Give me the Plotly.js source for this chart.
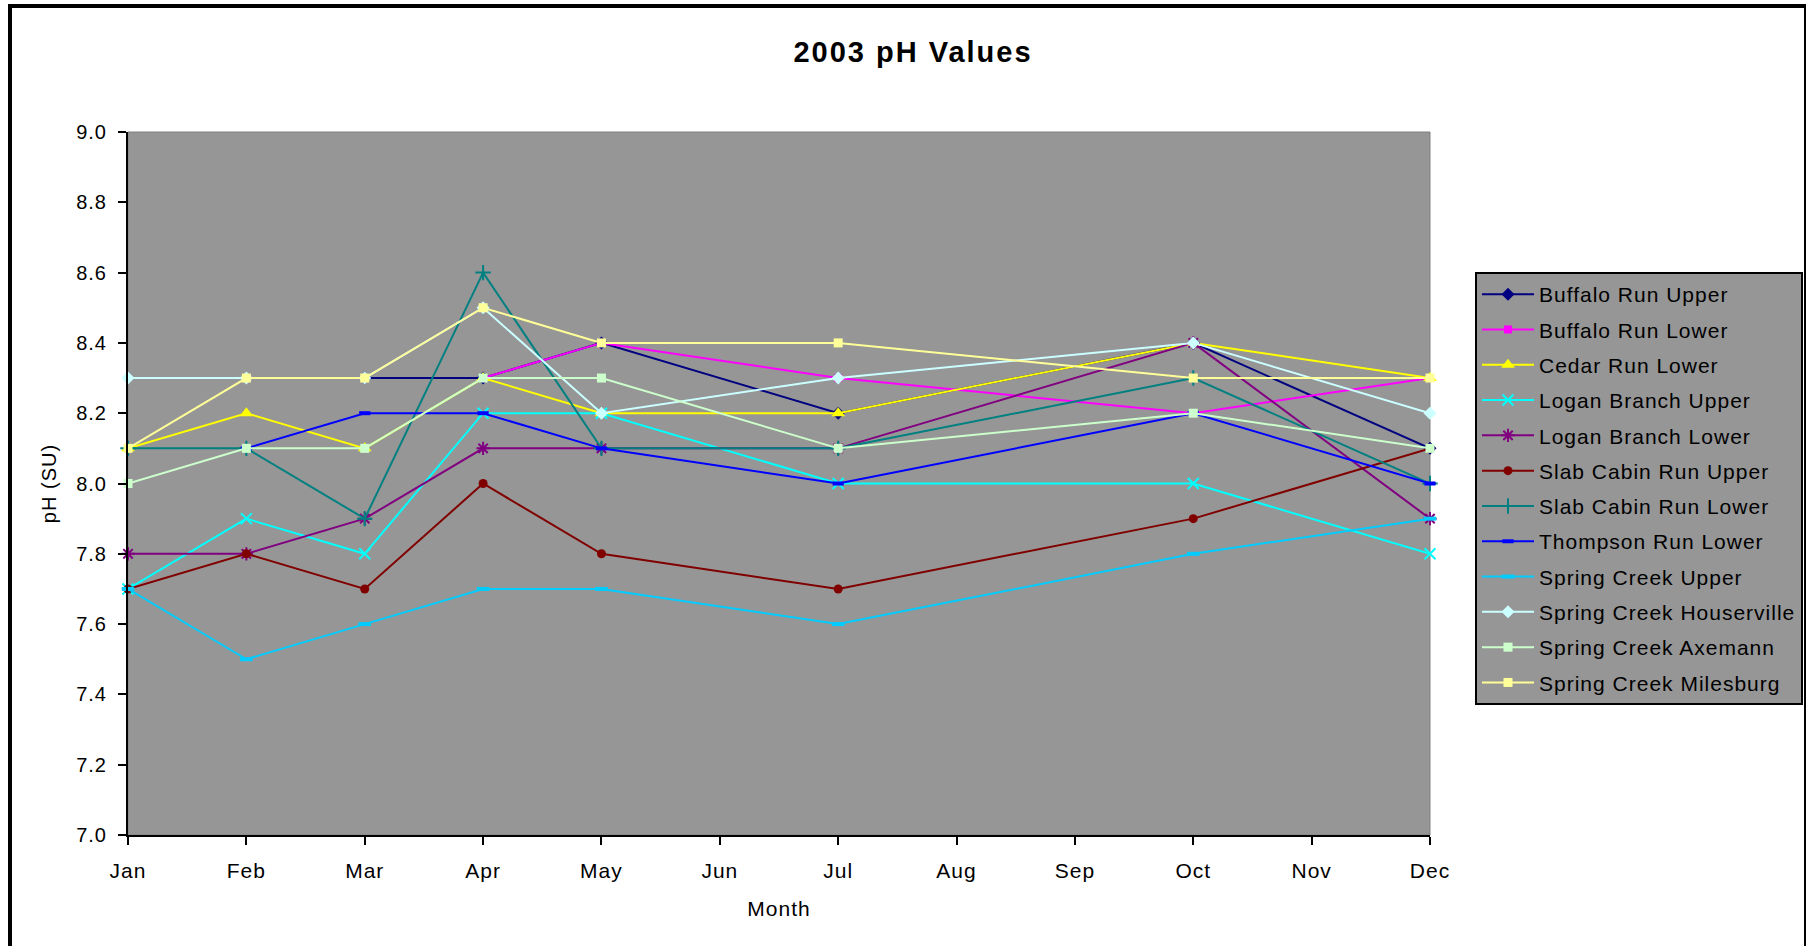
<!DOCTYPE html>
<html>
<head>
<meta charset="utf-8">
<script src="https://cdn.plot.ly/plotly-3.0.1.min.js"></script>
<style>
  html, body { margin: 0; padding: 0; background: #fff; overflow: hidden; }
  #frame { position: absolute; left: 8px; top: 4px; width: 1798px; height: 1000px;
           border-left: 4px solid #000; border-top: 4px solid #000; border-right: 2px solid #000; box-sizing: border-box; }
  #chart { position: absolute; left: 0; top: 0; width: 1812px; height: 946px; }
  text { letter-spacing: 1px; }
  .gtitle { letter-spacing: 2px; }
</style>
</head>
<body>
<div id="frame"></div>
<div id="chart"></div>
<script>
// All months on the category axis
const months = ['Jan','Feb','Mar','Apr','May','Jun','Jul','Aug','Sep','Oct','Nov','Dec'];
// Months with samples
const sampleMonths = ['Jan','Feb','Mar','Apr','May','Jul','Oct','Dec'];

const seriesNames = [
  'Buffalo Run Upper','Buffalo Run Lower','Cedar Run Lower','Logan Branch Upper',
  'Logan Branch Lower','Slab Cabin Run Upper','Slab Cabin Run Lower','Thompson Run Lower',
  'Spring Creek Upper','Spring Creek Houserville','Spring Creek Axemann','Spring Creek Milesburg'
];

const buffaloRunUpper      = [null, null, 8.3, 8.3, 8.4, 8.2, 8.4, 8.1];
const buffaloRunLower      = [null, null, null, 8.3, 8.4, 8.3, 8.2, 8.3];
const cedarRunLower        = [8.1, 8.2, 8.1, 8.3, 8.2, 8.2, 8.4, 8.3];
const loganBranchUpper     = [7.7, 7.9, 7.8, 8.2, 8.2, 8.0, 8.0, 7.8];
const loganBranchLower     = [7.8, 7.8, 7.9, 8.1, 8.1, 8.1, 8.4, 7.9];
const slabCabinRunUpper    = [7.7, 7.8, 7.7, 8.0, 7.8, 7.7, 7.9, 8.1];
const slabCabinRunLower    = [8.1, 8.1, 7.9, 8.6, 8.1, 8.1, 8.3, 8.0];
const thompsonRunLower     = [null, 8.1, 8.2, 8.2, 8.1, 8.0, 8.2, 8.0];
const springCreekUpper     = [7.7, 7.5, 7.6, 7.7, 7.7, 7.6, 7.8, 7.9];
const springCreekHouserville = [8.3, 8.3, 8.3, 8.5, 8.2, 8.3, 8.4, 8.2];
const springCreekAxemann   = [8.0, 8.1, 8.1, 8.3, 8.3, 8.1, 8.2, 8.1];
const springCreekMilesburg = [8.1, 8.3, 8.3, 8.5, 8.4, 8.4, 8.3, 8.3];

const seriesValues = [buffaloRunUpper, buffaloRunLower, cedarRunLower, loganBranchUpper,
  loganBranchLower, slabCabinRunUpper, slabCabinRunLower, thompsonRunLower,
  springCreekUpper, springCreekHouserville, springCreekAxemann, springCreekMilesburg];

const styles = [
  {color:'#000080', symbol:'diamond', size:10},
  {color:'#FF00FF', symbol:'square', size:8},
  {color:'#FFFF00', symbol:'triangle-up', size:12},
  {color:'#00FFFF', symbol:'x-thin-open', size:11, lw:2},
  {color:'#800080', symbol:'asterisk-open', size:11, lw:2},
  {color:'#800000', symbol:'circle', size:9},
  {color:'#008080', symbol:'cross-thin-open', size:11, lw:2},
  {color:'#0000FF', symbol:'line-ew-open', size:8, lw:4},
  {color:'#00CCFF', symbol:'line-ew-open', size:9, lw:4},
  {color:'#CCFFFF', symbol:'diamond', size:10},
  {color:'#CCFFCC', symbol:'square', size:9},
  {color:'#FFFF99', symbol:'square', size:9}
];

const traces = seriesNames.map((name, i) => {
  const s = styles[i];
  const marker = {color: s.color, symbol: s.symbol, size: s.size};
  if (s.lw) marker.line = {color: s.color, width: s.lw};
  else marker.line = {width: 0};
  return {
    type: 'scatter', mode: 'lines+markers', name: name,
    legendgroup: 'g' + i,
    x: sampleMonths, y: seriesValues[i],
    connectgaps: true,
    line: {color: s.color, width: 2},
    marker: marker,
    cliponaxis: false
  };
});

const layout = {
  width: 1812, height: 946,
  paper_bgcolor: 'rgba(0,0,0,0)',
  plot_bgcolor: '#969696',
  margin: {l: 128, r: 382, t: 132, b: 111, autoexpand: false},
  font: {family: 'Liberation Sans, Arial, sans-serif', color: '#000', size: 21},
  title: {
    text: '<b>2003 pH Values</b>',
    font: {size: 29, color: '#000'},
    x: 913/1812, xref: 'container', xanchor: 'center',
    y: 1 - 52/946, yref: 'container', yanchor: 'middle'
  },
  xaxis: {
    type: 'category', categoryorder: 'array', categoryarray: months,
    range: [0, 11], showgrid: false, zeroline: false,
    showline: true, linecolor: '#000', linewidth: 2,
    ticks: 'outside', ticklen: 8, tickwidth: 2, tickcolor: '#000',
    tickfont: {size: 21}, ticklabelstandoff: 8,
    title: {text: 'Month', font: {size: 21}, standoff: 20}
  },
  yaxis: {
    range: [7, 9], dtick: 0.2, tick0: 7, tickformat: '.1f',
    showgrid: false, zeroline: false,
    showline: true, linecolor: '#000', linewidth: 2,
    ticks: 'outside', ticklen: 8, tickwidth: 2, tickcolor: '#000',
    tickfont: {size: 20}, ticklabelstandoff: 7,
    title: {text: 'pH (SU)', font: {size: 20}, standoff: 14}
  },
  shapes: [{
    type: 'rect', xref: 'paper', yref: 'paper', x0: 0, x1: 1, y0: 0, y1: 1,
    line: {color: '#808080', width: 1}, layer: 'below'
  }],
  legend: {
    x: (1475 - 128) / 1302, xanchor: 'left',
    y: (835 - 272) / 703, yanchor: 'top',
    bgcolor: '#969696', bordercolor: '#000', borderwidth: 2,
    font: {size: 21, color: '#000'},
    tracegroupgap: 5, traceorder: 'grouped',
    itemwidth: 52
  },
  showlegend: true
};

Plotly.newPlot('chart', traces, layout, {displayModeBar: false, staticPlot: true});
</script>
</body>
</html>
